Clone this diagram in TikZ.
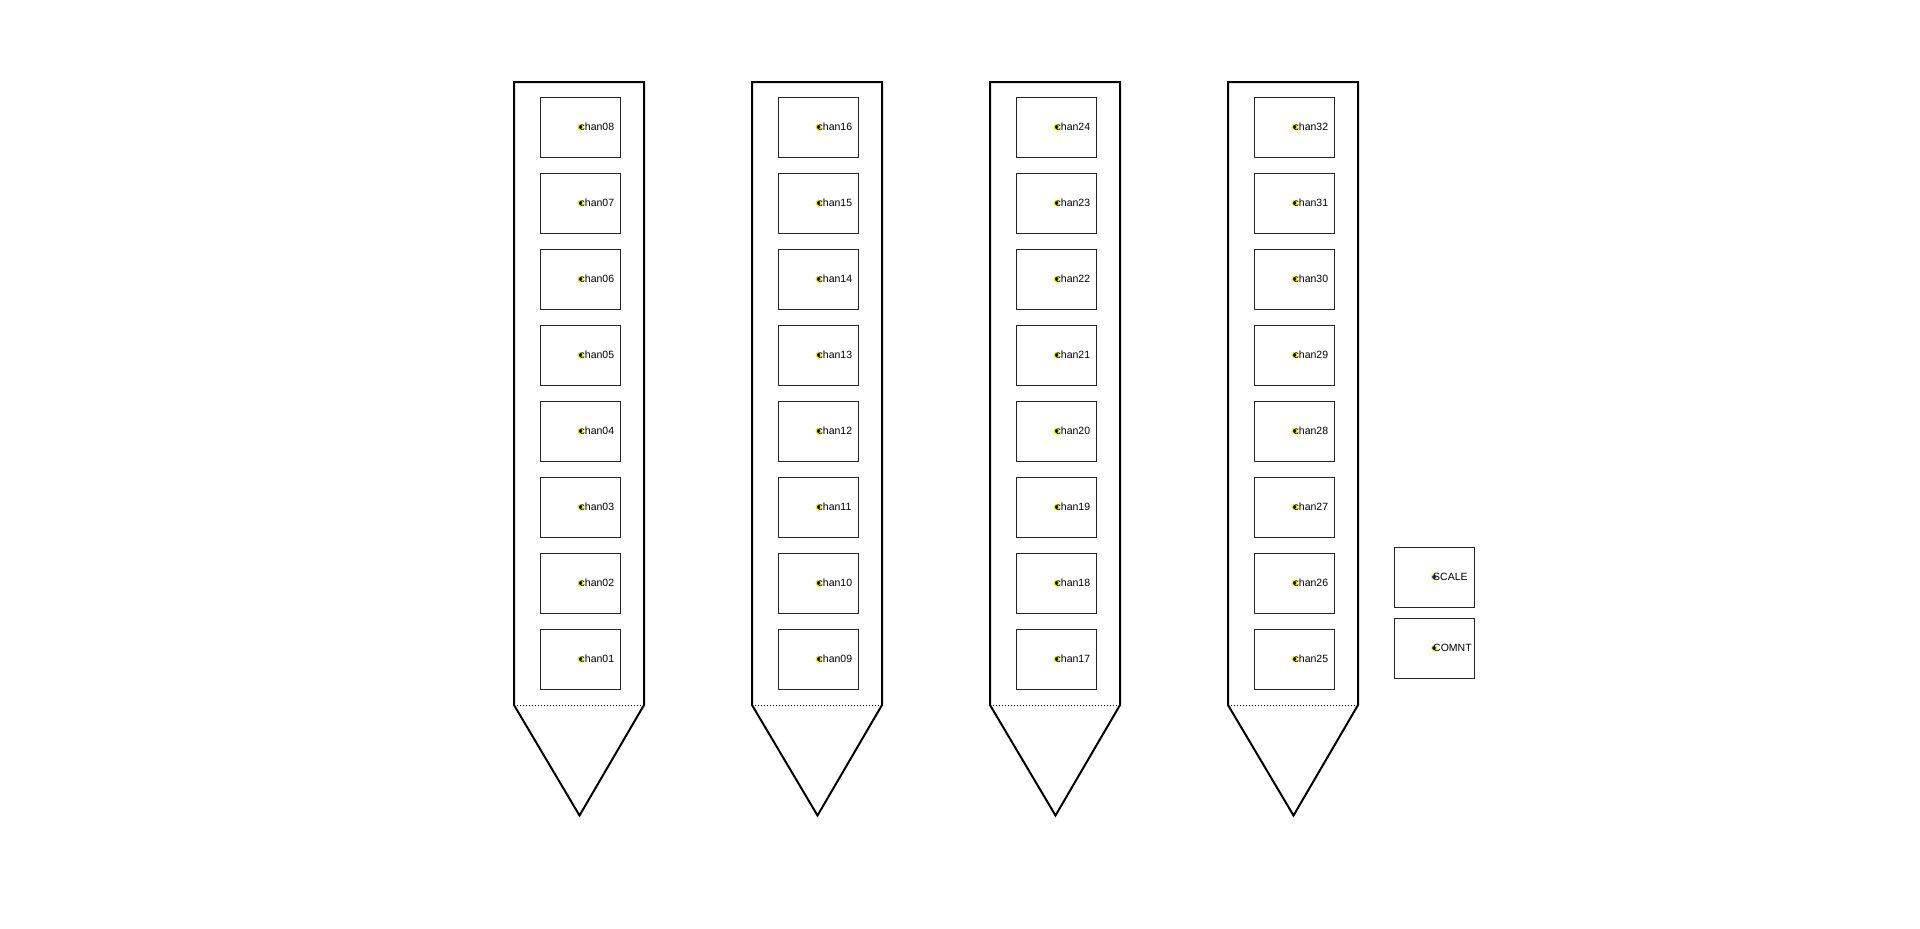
\documentclass[tikz,border=0pt]{standalone}
\usepackage{fontspec}
\setmainfont{Liberation Sans}
\usetikzlibrary{positioning}

\tikzset{
  chanbox/.style={draw=black!85, line width=1pt, minimum width=80pt, minimum height=60pt, inner sep=0pt},
  chanlabel/.style={anchor=west, inner sep=0pt, font=\fontsize{10.5}{12}\selectfont},
  pinmark/.style={fill=blue, draw=yellow, line width=1pt}
}

\begin{document}
\begin{tikzpicture}[x=1pt, y=-1pt]
  \useasboundingbox (0,0) rectangle (1920,929);

  % shanks
  \foreach \s in {0,...,3} {
    \pgfmathsetmacro{\sx}{514+238*\s}
    \draw[line width=2pt, line join=miter] (\sx,705) -- (\sx,82) -- (\sx+130,82) -- (\sx+130,705) -- (\sx+65.5,815.5) -- cycle;
    \draw[dotted, line width=1pt] (\sx,705) -- (\sx+130,705);
    \foreach \c in {1,...,8} {
      \pgfmathtruncatemacro{\n}{8*\s+\c}
      \pgfmathsetmacro{\cy}{127+(8-\c)*76}
      \node[chanbox] (box\n) at (\sx+66.5,\cy) {};
      \draw[pinmark] (box\n.center) circle (2.5);
      \node[chanlabel] (chan\n) at ([xshift=-1pt]box\n.center) {chan\ifnum\n<10 0\fi\n};
    }
  }

  % extra sites
  \node[chanbox] (scalebox) at (1434,577) {};
  \draw[pinmark] (scalebox.center) circle (2.5);
  \node[chanlabel] (scale) at ([xshift=-1pt]scalebox.center) {SCALE};
  \node[chanbox] (comntbox) at (1434,648) {};
  \draw[pinmark] (comntbox.center) circle (2.5);
  \node[chanlabel] (comnt) at ([xshift=-1pt]comntbox.center) {COMNT};
\end{tikzpicture}
\end{document}
